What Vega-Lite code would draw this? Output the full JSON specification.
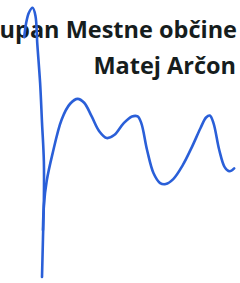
{
  "$schema": "https://vega.github.io/schema/vega-lite/v6.json",
  "width": 240,
  "height": 283,
  "autosize": {"type": "fit", "contains": "padding"},
  "padding": 0,
  "background": "white",
  "config": {"view": {"stroke": null}},
  "datasets": {
    "sig": [
      {"s": "a", "i": 1, "x": 13, "y": 38},
      {"s": "a", "i": 2, "x": 15, "y": 24},
      {"s": "a", "i": 3, "x": 18, "y": 13},
      {"s": "a", "i": 4, "x": 22, "y": 8},
      {"s": "a", "i": 5, "x": 25, "y": 16},
      {"s": "a", "i": 6, "x": 27, "y": 45},
      {"s": "a", "i": 7, "x": 30, "y": 85},
      {"s": "a", "i": 8, "x": 32, "y": 125},
      {"s": "a", "i": 9, "x": 34, "y": 165},
      {"s": "a", "i": 10, "x": 34, "y": 205},
      {"s": "a", "i": 11, "x": 33, "y": 245},
      {"s": "a", "i": 12, "x": 32, "y": 283},
      {"s": "b", "i": 1, "x": 33, "y": 235},
      {"s": "b", "i": 2, "x": 34, "y": 210},
      {"s": "b", "i": 3, "x": 37, "y": 185},
      {"s": "b", "i": 4, "x": 43, "y": 158},
      {"s": "b", "i": 5, "x": 53, "y": 122},
      {"s": "b", "i": 6, "x": 62, "y": 106},
      {"s": "b", "i": 7, "x": 70, "y": 101},
      {"s": "b", "i": 8, "x": 77, "y": 105},
      {"s": "b", "i": 9, "x": 85, "y": 119},
      {"s": "b", "i": 10, "x": 93, "y": 134},
      {"s": "b", "i": 11, "x": 101, "y": 141},
      {"s": "b", "i": 12, "x": 109, "y": 138},
      {"s": "b", "i": 13, "x": 119, "y": 126},
      {"s": "b", "i": 14, "x": 128, "y": 119},
      {"s": "b", "i": 15, "x": 134, "y": 119},
      {"s": "b", "i": 16, "x": 138, "y": 126},
      {"s": "b", "i": 17, "x": 144, "y": 153},
      {"s": "b", "i": 18, "x": 151, "y": 177},
      {"s": "b", "i": 19, "x": 158, "y": 187},
      {"s": "b", "i": 20, "x": 164, "y": 188},
      {"s": "b", "i": 21, "x": 172, "y": 183},
      {"s": "b", "i": 22, "x": 182, "y": 169},
      {"s": "b", "i": 23, "x": 192, "y": 150},
      {"s": "b", "i": 24, "x": 201, "y": 131},
      {"s": "b", "i": 25, "x": 207, "y": 120},
      {"s": "b", "i": 26, "x": 211, "y": 118},
      {"s": "b", "i": 27, "x": 215, "y": 126},
      {"s": "b", "i": 28, "x": 221, "y": 153},
      {"s": "b", "i": 29, "x": 227, "y": 171},
      {"s": "b", "i": 30, "x": 232, "y": 175},
      {"s": "b", "i": 31, "x": 237, "y": 172}
    ],
    "txt": [
      {"label": "Župan Mestne občine", "x": 240, "y": 38.5},
      {"label": "Matej Arčon", "x": 239, "y": 76}
    ]
  },
  "layer": [
    {
      "data": {"name": "txt"},
      "mark": {"type": "text", "align": "right", "baseline": "alphabetic", "font": "Open Sans", "fontWeight": "bold", "fontSize": 23.5, "color": "#161d1d"},
      "encoding": {
        "x": {"field": "x", "type": "quantitative", "scale": {"domain": [0, 240]}, "axis": null},
        "y": {"field": "y", "type": "quantitative", "scale": {"domain": [0, 283], "reverse": true}, "axis": null},
        "text": {"field": "label"}
      }
    },
    {
      "data": {"name": "sig"},
      "mark": {"type": "line", "interpolate": "catmull-rom", "strokeWidth": 2.6, "color": "#2a5fd8", "strokeCap": "round"},
      "encoding": {
        "x": {"field": "x", "type": "quantitative", "scale": {"domain": [0, 240]}, "axis": null},
        "y": {"field": "y", "type": "quantitative", "scale": {"domain": [0, 283], "reverse": true}, "axis": null},
        "detail": {"field": "s"},
        "order": {"field": "i"}
      }
    }
  ]
}
